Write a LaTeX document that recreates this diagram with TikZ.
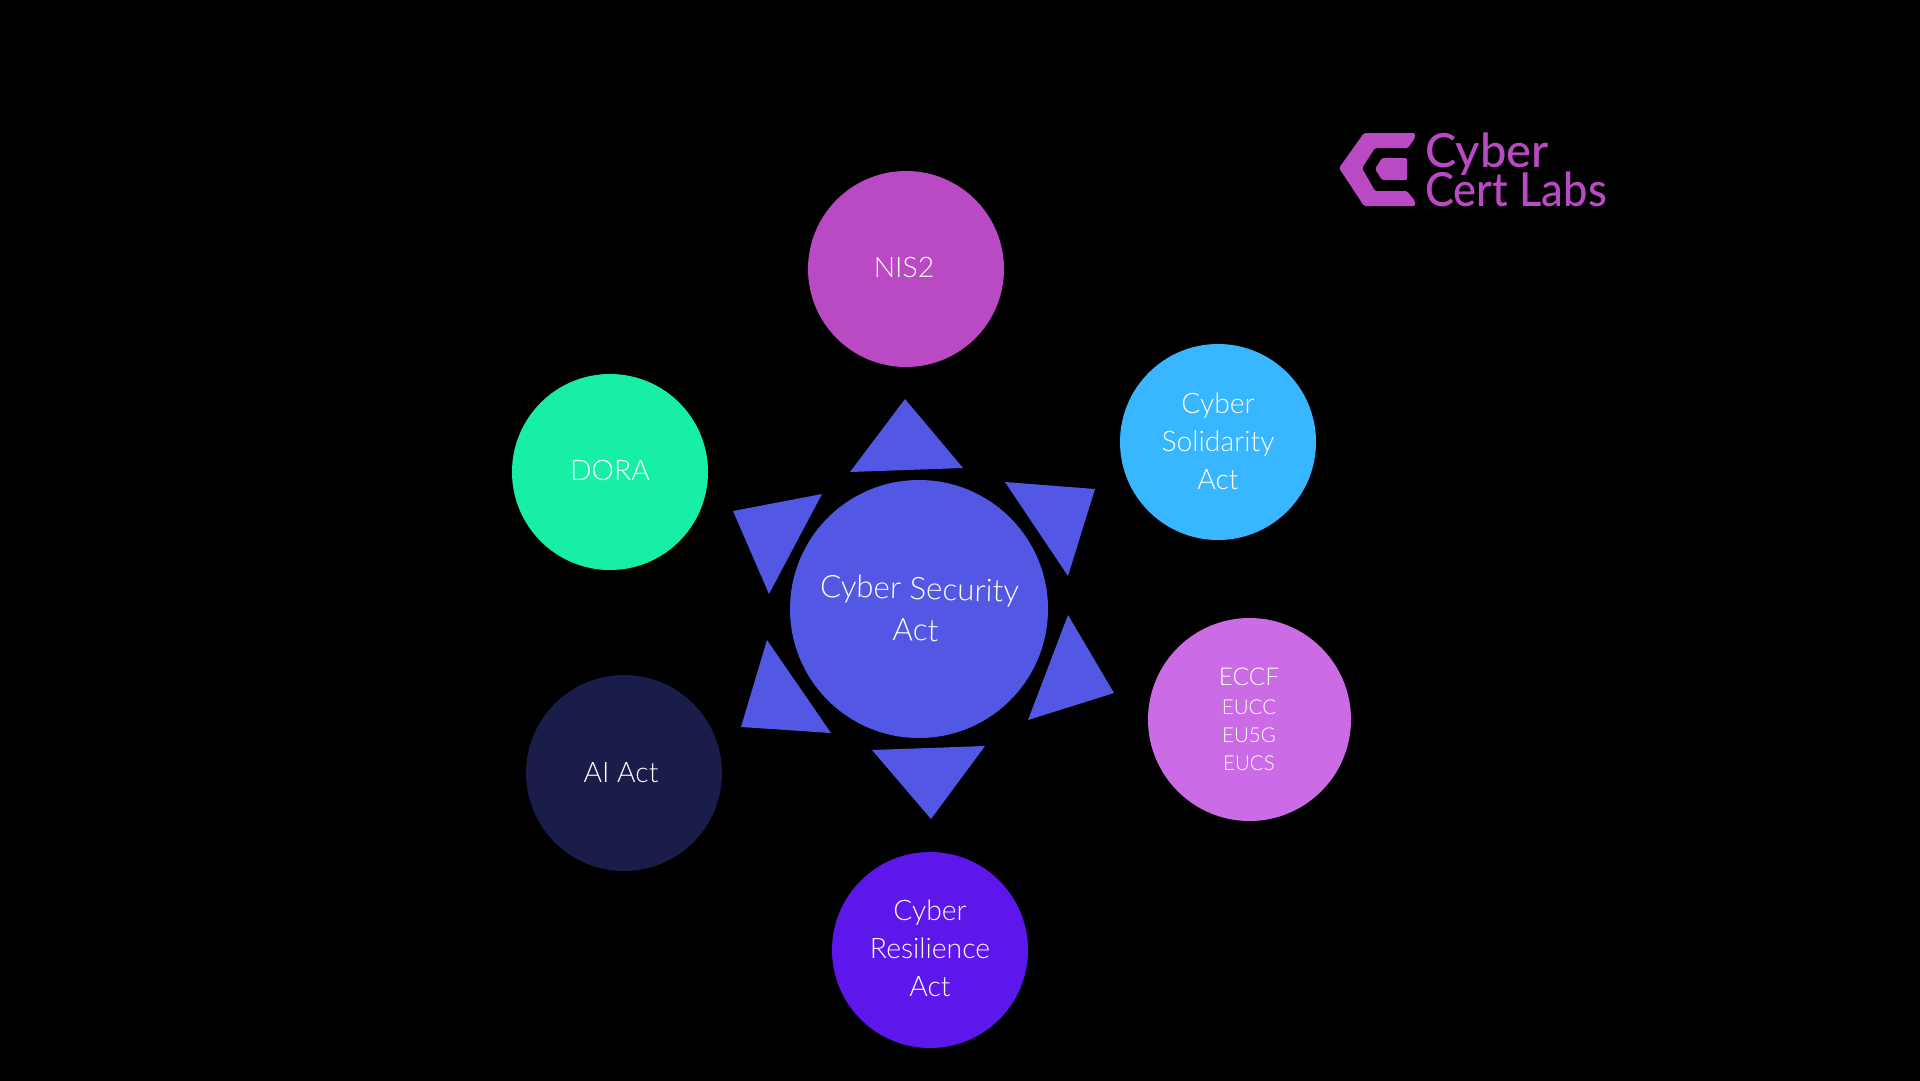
\documentclass[tikz,border=0pt]{standalone}
\usepackage{fontspec}
\setmainfont{Lato Light}
\newfontfamily\logofont{Lato Medium}
\definecolor{hub}{HTML}{5258E4}
\definecolor{nis}{HTML}{BA4AC3}
\definecolor{sol}{HTML}{38B6FF}
\definecolor{dora}{HTML}{17EFA8}
\definecolor{aiact}{HTML}{1A1C4A}
\definecolor{cra}{HTML}{5E17EB}
\definecolor{eccf}{HTML}{CB6CE6}
\tikzset{
  disc/.style={circle,fill=#1,draw=none,inner sep=0pt,minimum size=196pt},
  ray/.style={fill=hub,draw=none},
  lab/.style={text=white,align=center,inner sep=0pt,font=\fontsize{28.3}{38}\selectfont},
  hublab/.style={text=white,align=center,inner sep=0pt,rotate=-1.5,font=\fontsize{31.3}{41}\selectfont},
  minilab/.style={text=white,inner sep=0pt,font=\fontsize{#1}{#1}\selectfont},
  logotext/.style={text=nis,anchor=base west,inner sep=0pt,font=\logofont\fontsize{47}{47}\selectfont}
}
\begin{document}
\begin{tikzpicture}[x=1pt,y=-1pt]
\useasboundingbox (0,0) rectangle (1920,1080);
\fill[black] (-5,-5) rectangle (1925,1085);
% rays
\fill[ray] (905,399) -- (850,472) -- (963,468) -- cycle;
\fill[ray] (1005,482) -- (1095,489) -- (1068,576) -- cycle;
\fill[ray] (1068,615) -- (1114,693) -- (1028,720) -- cycle;
\fill[ray] (872,750) -- (985,746) -- (931,819) -- cycle;
\fill[ray] (767,640) -- (831,733) -- (741,727) -- cycle;
\fill[ray] (822,494) -- (733,511) -- (769,594) -- cycle;
% discs
\node[disc=hub,minimum size=258pt] (hubdisc) at (919,609) {};
\node[disc=nis] (nisdisc) at (906,269) {};
\node[disc=sol] (soldisc) at (1218,442) {};
\node[disc=dora] (doradisc) at (610,472) {};
\node[disc=aiact] (aidisc) at (624,773) {};
\node[disc=cra] (cradisc) at (930,950) {};
\node[disc=eccf,minimum size=203pt] (eccfdisc) at (1249.5,719.5) {};
% labels
\node[hublab] (hubtexta) at (919.5,591) {Cyber Security};
\node[hublab] (hubtextb) at (915.5,630) {Act};
\node[lab] (nistext) at (904,267.5) {NIS2};
\node[lab] (soltext) at (1218,441.5) {Cyber\\Solidarity\\Act};
\node[lab] (doratext) at (610,470.5) {DORA};
\node[lab] (aitext) at (621,773) {AI Act};
\node[lab] (cratext) at (930,948.5) {Cyber\\Resilience\\Act};
\node[minilab=24.5] (t1) at (1249,677) {ECCF};
\node[minilab=20.5] (t2) at (1249,707) {EUCC};
\node[minilab=20.5] (t3) at (1249,735) {EU5G};
\node[minilab=20.5] (t4) at (1249,763) {EUCS};
% logo
\fill[nis,even odd rule,rounded corners=1.5pt]
 (1364,133) -- (1415,133) -- (1415,138) -- (1408,148) -- (1375,148) -- (1362,168) -- (1375,191) -- (1407,191) -- (1415,201) -- (1415,206) -- (1364,206) -- (1339,168) -- cycle
 (1382,158) -- (1407,158) -- (1407,180) -- (1382,180) -- (1375,169) -- cycle;
\node[logotext] (logoa) at (1425,167) {Cyber};
\node[logotext,xscale=0.925] (logob) at (1425,206.5) {Cert Labs};
\end{tikzpicture}
\end{document}
